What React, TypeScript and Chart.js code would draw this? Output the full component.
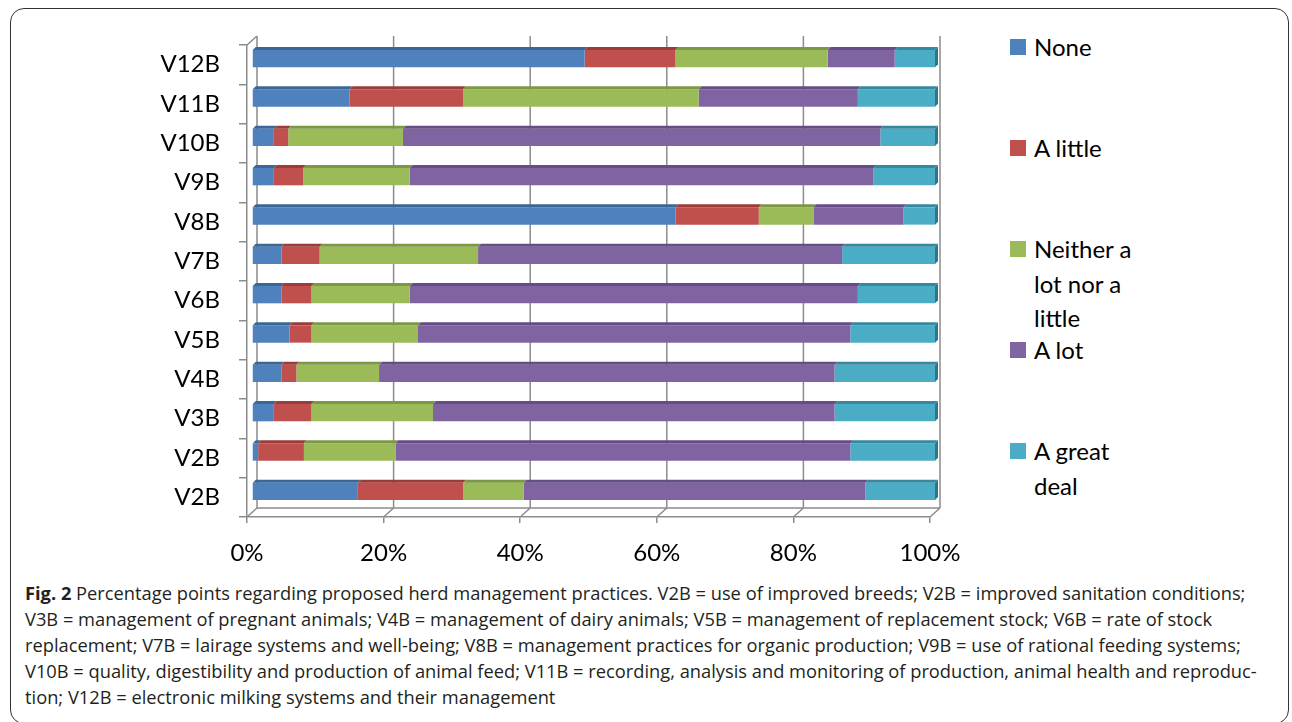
import React, { useEffect, useRef } from "react";
import { Chart, registerables } from "chart.js";

Chart.register(...registerables);

// ---------- DATA ----------
const categories = ["V12B", "V11B", "V10B", "V9B", "V8B", "V7B", "V6B", "V5B", "V4B", "V3B", "V2B", "V2B"];
const seriesNames = ["None", "A little", "Neither a lot nor a little", "A lot", "A great deal"];
const noneValues = [48.7, 14.3, 3.2, 3.2, 62.0, 4.3, 4.3, 5.5, 4.3, 3.2, 0.9, 15.5];
const aLittleValues = [13.3, 16.6, 2.1, 4.3, 12.2, 5.6, 4.4, 3.2, 2.2, 5.5, 6.7, 15.4];
const neitherValues = [22.3, 34.5, 16.8, 15.6, 8.0, 23.2, 14.4, 15.6, 12.1, 17.8, 13.4, 8.9];
const aLotValues = [9.8, 23.3, 69.9, 67.9, 13.2, 53.3, 65.6, 63.3, 66.7, 58.8, 66.6, 50.0];
const greatDealValues = [5.9, 11.3, 8.0, 9.0, 4.6, 13.6, 11.3, 12.4, 14.7, 14.7, 12.4, 10.2];
const xTickValues = [0, 20, 40, 60, 80, 100];

const seriesColors = ["#4F81BD", "#C0504D", "#9BBB59", "#8064A2", "#4BACC6"];
const topFaceColors = ["#3B6797", "#9C3C39", "#7C9845", "#654D86", "#34899F"];
const sideFaceColor = "#2C768A";

const captionBold = "Fig. 2";
const captionLines = [
  "Percentage points regarding proposed herd management practices. V2B = use of improved breeds; V2B = improved sanitation conditions;",
  "V3B = management of pregnant animals; V4B = management of dairy animals; V5B = management of replacement stock; V6B = rate of stock",
  "replacement; V7B = lairage systems and well-being; V8B = management practices for organic production; V9B = use of rational feeding systems;",
  "V10B = quality, digestibility and production of animal feed; V11B = recording, analysis and monitoring of production, animal health and reproduc-",
  "tion; V12B = electronic milking systems and their management",
];

const seriesValues = [noneValues, aLittleValues, neitherValues, aLotValues, greatDealValues];

const GRID = "#8c8c8c";
const BACK_DX = 10;
const BACK_DY = 9;
const BAR_DX = 5;
const BAR_DY = 6;
const FACE = 3;

const threeD = {
  id: "threeD",
  beforeDatasetsDraw(chart: any) {
    const ctx = chart.ctx;
    const area = chart.chartArea;
    const xs = chart.scales.x;
    ctx.save();
    ctx.strokeStyle = GRID;
    ctx.lineWidth = 1.5;
    ctx.beginPath();
    for (const v of xTickValues) {
      const px = xs.getPixelForValue(v);
      ctx.moveTo(px + BACK_DX, area.top - BACK_DY);
      ctx.lineTo(px + BACK_DX, area.bottom - BACK_DY);
      ctx.moveTo(px, area.bottom);
      ctx.lineTo(px + BACK_DX, area.bottom - BACK_DY);
    }
    ctx.moveTo(area.left + BACK_DX, area.bottom - BACK_DY);
    ctx.lineTo(area.right + BACK_DX, area.bottom - BACK_DY);
    ctx.moveTo(area.left, area.top);
    ctx.lineTo(area.left + BACK_DX, area.top - BACK_DY);
    ctx.stroke();
    ctx.restore();

    ctx.save();
    ctx.translate(BAR_DX, -BAR_DY);
  },
  afterDatasetsDraw(chart: any) {
    const ctx = chart.ctx;
    const n = chart.data.datasets.length;
    for (let d = 0; d < n; d++) {
      const meta = chart.getDatasetMeta(d);
      meta.data.forEach((bar: any) => {
        const p = bar.getProps(["x", "y", "base", "height"], true);
        const l = Math.min(p.x, p.base);
        const r = Math.max(p.x, p.base);
        const t = p.y - p.height / 2;
        const b = p.y + p.height / 2;
        if (r - l < 0.01) return;
        ctx.fillStyle = topFaceColors[d];
        ctx.beginPath();
        ctx.moveTo(l, t);
        ctx.lineTo(l + FACE, t - FACE);
        ctx.lineTo(r + FACE, t - FACE);
        ctx.lineTo(r, t);
        ctx.closePath();
        ctx.fill();
        if (d === n - 1) {
          ctx.fillStyle = sideFaceColor;
          ctx.beginPath();
          ctx.moveTo(r, t);
          ctx.lineTo(r + FACE, t - FACE);
          ctx.lineTo(r + FACE, b - FACE);
          ctx.lineTo(r, b);
          ctx.closePath();
          ctx.fill();
        }
      });
    }
    ctx.restore();
  },
};

const CHART_FONT = "Lato, 'Open Sans', sans-serif";

function BarChart() {
  const ref = useRef<HTMLCanvasElement | null>(null);
  useEffect(() => {
    if (!ref.current) return;
    const chart = new Chart(ref.current, {
      type: "bar",
      data: {
        labels: categories,
        datasets: seriesNames.map((name, i) => ({
          label: name,
          data: seriesValues[i],
          backgroundColor: seriesColors[i],
          borderWidth: 0,
          categoryPercentage: 1,
          barPercentage: 0.44,
          clip: false as any,
        })),
      },
      options: {
        indexAxis: "y",
        animation: false,
        responsive: true,
        maintainAspectRatio: false,
        layout: { padding: { top: 45, right: 70, left: 0, bottom: 0 } },
        plugins: { legend: { display: false }, tooltip: { enabled: false } },
        scales: {
          x: {
            stacked: true,
            min: 0,
            max: 100,
            afterBuildTicks: (scale: any) => {
              scale.ticks = xTickValues.map((v) => ({ value: v }));
            },
            afterFit: (scale: any) => {
              scale.height = 50;
            },
            ticks: {
              callback: (v: any) => v + "%",
              color: "#000",
              font: { family: CHART_FONT, size: 24 },
              padding: 16,
              maxRotation: 0,
            },
            grid: {
              display: true,
              drawOnChartArea: false,
              drawTicks: true,
              tickLength: 6,
              color: GRID,
              lineWidth: 1.5,
            },
            border: { display: true, color: GRID, width: 1.5 },
          },
          y: {
            stacked: true,
            afterFit: (scale: any) => {
              scale.width = 247;
            },
            ticks: {
              color: "#000",
              font: { family: CHART_FONT, size: 24 },
              padding: 19,
            },
            grid: {
              display: true,
              drawOnChartArea: false,
              offset: true,
              tickLength: 8,
              color: GRID,
              lineWidth: 1.5,
            },
            border: { display: true, color: GRID, width: 1.5 },
          },
        },
      },
      plugins: [threeD],
    });
    return () => chart.destroy();
  }, []);
  return (
    <div style={{ position: "absolute", left: 0, top: 0, width: 1000, height: 567 }}>
      <canvas ref={ref} />
    </div>
  );
}

export default function App() {
  return (
    <div
      style={{
        position: "fixed",
        left: 0,
        top: 0,
        width: 1292,
        height: 722,
        overflow: "hidden",
        background: "#fff",
      }}
    >
      <div
        style={{
          position: "absolute",
          left: 10,
          top: 8,
          width: 1279,
          height: 716,
          border: "1px solid #333",
          borderRadius: 14,
          boxSizing: "border-box",
        }}
      />
      <BarChart />
      {seriesNames.map((name, i) => (
        <div
          key={i}
          style={{
            position: "absolute",
            left: 1010,
            top: 30 + 101 * i,
            width: 160,
          }}
        >
          <div
            style={{
              position: "absolute",
              left: 0,
              top: 9,
              width: 16,
              height: 16,
              background: seriesColors[i],
            }}
          />
          <div
            style={{
              position: "absolute",
              left: 24,
              top: 0,
              width: 122,
              fontFamily: CHART_FONT,
              fontSize: 24,
              lineHeight: "34.5px",
              color: "#000",
            }}
          >
            {name}
          </div>
        </div>
      ))}
      {captionLines.map((line, i) => (
        <div
          key={i}
          style={{
            position: "absolute",
            left: 25,
            top: 580 + 26 * i,
            whiteSpace: "nowrap",
            fontFamily: "'Open Sans', sans-serif",
            fontSize: 18.3,
            lineHeight: "26px",
            color: "#231f20",
          }}
        >
          {i === 0 ? (
            <>
              <b>{captionBold}</b>
              {"  "}
              {line}
            </>
          ) : (
            line
          )}
        </div>
      ))}
    </div>
  );
}
